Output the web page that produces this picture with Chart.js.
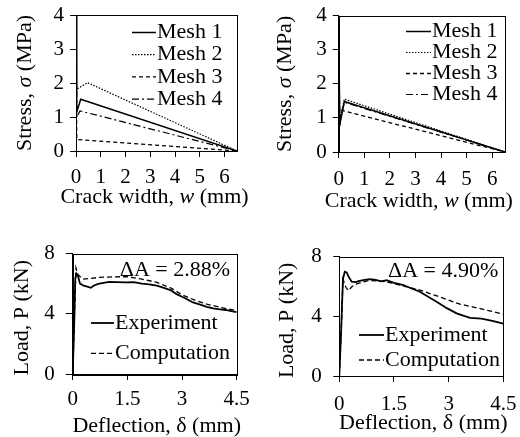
<!DOCTYPE html>
<html>
<head>
<meta charset="utf-8">
<script src="https://cdn.jsdelivr.net/npm/chart.js@4"></script>
<style>
html, body { margin: 0; padding: 0; background: #fff; overflow: hidden; }
#wrap { position: relative; width: 520px; height: 437px; overflow: hidden; }
.cell { position: absolute; width: 260px; }
</style>
</head>
<body>
<div id="wrap">
  <div class="cell" style="left:0;top:0;height:220px"><canvas id="c1"></canvas></div>
  <div class="cell" style="left:260px;top:0;height:220px"><canvas id="c2"></canvas></div>
  <div class="cell" style="left:0;top:220px;height:230px"><canvas id="c3"></canvas></div>
  <div class="cell" style="left:260px;top:220px;height:230px"><canvas id="c4"></canvas></div>
</div>
<script>
// ---- data: softening curves, left (a) ----
const meshNames = ['Mesh 1', 'Mesh 2', 'Mesh 3', 'Mesh 4'];
const aW1 = [0, 0.03, 0.19, 6.5];  const aS1 = [4, 1.15, 1.52, 0];
const aW2 = [0, 0.03, 0.47, 6.5];  const aS2 = [4, 1.82, 2.01, 0];
const aW3 = [0, 0.03, 6.5];        const aS3 = [4, 0.34, 0];
const aW4 = [0, 0.03, 0.16, 6.5];  const aS4 = [4, 0.99, 1.18, 0];

// ---- data: softening curves, right (b) ----
const bW1 = [0, 0.04, 0.22, 6.5];  const bS1 = [4, 0.8, 1.48, 0];
const bW2 = [0, 0.04, 0.22, 6.5];  const bS2 = [4, 0.9, 1.55, 0];
const bW3 = [0, 0.04, 0.12, 6.5];  const bS3 = [4, 0.75, 1.22, 0];
const bW4 = [0, 0.04, 0.22, 6.5];  const bS4 = [4, 0.85, 1.46, 0];

const crackTicks = [0, 1, 2, 3, 4, 5, 6];
const stressTicks = [0, 1, 2, 3, 4];

// ---- data: load-deflection, left (c) ----
const cExpD = [0, 0.04, 0.07, 0.1, 0.14, 0.2, 0.3, 0.4, 0.5, 0.57, 0.7, 0.85, 1.0, 1.2, 1.45, 1.67, 1.9, 2.1, 2.31, 2.5, 2.7, 2.85, 3.0, 3.15, 3.3, 3.5, 3.68, 3.85, 4.0, 4.2, 4.35, 4.5];
const cExpP = [0, 3.2, 6.3, 6.68, 6.55, 6.0, 5.86, 5.8, 5.72, 5.86, 5.98, 6.05, 6.12, 6.1, 6.08, 6.1, 6.0, 5.95, 5.86, 5.72, 5.55, 5.3, 5.13, 4.95, 4.75, 4.6, 4.46, 4.35, 4.3, 4.25, 4.18, 4.1];
const cComD = [0, 0.05, 0.09, 0.14, 0.28, 0.5, 0.75, 1.1, 1.48, 1.9, 2.31, 2.7, 3.0, 3.35, 3.68, 4.1, 4.5];
const cComP = [0, 4.0, 7.04, 6.6, 6.3, 6.35, 6.42, 6.45, 6.46, 6.3, 6.08, 5.7, 5.26, 4.9, 4.64, 4.4, 4.2];

// ---- data: load-deflection, right (d) ----
const dExpD = [0, 0.05, 0.1, 0.15, 0.2, 0.27, 0.34, 0.45, 0.55, 0.7, 0.84, 1.0, 1.15, 1.3, 1.5, 1.76, 2.0, 2.21, 2.45, 2.67, 2.95, 3.22, 3.4, 3.59, 3.9, 4.2, 4.5];
const dExpP = [0, 3.0, 6.5, 7.0, 6.95, 6.6, 6.32, 6.3, 6.38, 6.45, 6.5, 6.45, 6.35, 6.42, 6.25, 6.1, 5.85, 5.65, 5.3, 4.98, 4.55, 4.2, 4.05, 3.9, 3.85, 3.7, 3.52];
const dComD = [0, 0.06, 0.1, 0.18, 0.25, 0.35, 0.5, 0.8, 1.2, 1.5, 1.9, 2.21, 2.7, 3.31, 3.9, 4.5];
const dComP = [0, 3.5, 6.5, 5.95, 5.72, 6.0, 6.2, 6.4, 6.35, 6.2, 5.95, 5.76, 5.35, 4.82, 4.5, 4.15];

const deflTicks = [0, 1.5, 3, 4.5];
const loadTicks = [0, 4, 8];
const seriesLD = ['Experiment', 'Computation'];
const deltaA = ['\u0394A = 2.88%', '\u0394A = 4.90%'];

// axis titles, split where the symbol is set in italic
const crackTitle = [['Crack width, ', false], ['w', true], [' (mm)', false]];
const stressTitle = [['Stress, ', false], ['\u03c3', true], [' (MPa)', false]];
const deflTitle = [['Deflection, \u03b4 (mm)', false]];
const loadTitle = [['Load, P (kN)', false]];

const FAMILY = "'Liberation Serif', 'Times New Roman', serif";
Chart.defaults.font.family = FAMILY;
Chart.defaults.font.size = 21;
Chart.defaults.color = '#000';

const pts = (xs, ys) => xs.map((x, i) => ({ x: x, y: ys[i] }));

const meshStyles = [
    { borderDash: [], borderWidth: 1.5 },
    { borderDash: [1.5, 1.5], borderWidth: 1.2 },
    { borderDash: [4, 3], borderWidth: 1.3 },
    { borderDash: [7, 3, 2, 3], borderWidth: 1.2 }
];
const ldStyles = [
    { borderDash: [], borderWidth: 1.8 },
    { borderDash: [5, 3], borderWidth: 1.3 }
];

function drawRich(ctx, segs, cx, cy, vertical) {
    ctx.save();
    ctx.translate(cx, cy);
    if (vertical) ctx.rotate(-Math.PI / 2);
    ctx.textBaseline = 'middle';
    ctx.textAlign = 'left';
    let total = 0;
    const widths = segs.map(s => {
        ctx.font = (s[1] ? 'italic ' : '') + '22px ' + FAMILY;
        const w = ctx.measureText(s[0]).width;
        total += w;
        return w;
    });
    let x = -total / 2;
    segs.forEach((s, i) => {
        ctx.font = (s[1] ? 'italic ' : '') + '22px ' + FAMILY;
        ctx.fillText(s[0], x, 0);
        x += widths[i];
    });
    ctx.restore();
}

// frame around plot, axis titles and legend drawn inside the plot area
const framePlugin = {
    id: 'frameLegend',
    afterDraw(chart, args, opts) {
        const ctx = chart.ctx;
        const a = chart.chartArea;
        ctx.save();
        ctx.strokeStyle = '#000';
        ctx.lineWidth = 1;
        ctx.strokeRect(Math.round(a.left) + 0.5, Math.round(a.top) + 0.5,
            Math.round(a.right - a.left), Math.round(a.bottom - a.top));

        ctx.fillStyle = '#000';
        drawRich(ctx, opts.xTitle, (a.left + a.right) / 2 + opts.xTitleDx, opts.xTitleY, false);
        drawRich(ctx, opts.yTitle, opts.yTitleX, (a.top + a.bottom) / 2 + opts.yTitleDy, true);

        ctx.font = '22px ' + FAMILY;
        ctx.textBaseline = 'middle';
        (opts.items || []).forEach((it, i) => {
            const y = opts.top + i * opts.gap;
            ctx.beginPath();
            ctx.setLineDash(it.dash);
            ctx.lineWidth = it.width;
            ctx.moveTo(opts.x, y);
            ctx.lineTo(opts.x + opts.len, y);
            ctx.stroke();
            ctx.setLineDash([]);
            ctx.textAlign = 'left';
            ctx.fillText(it.label, opts.x + opts.len + 1, y);
        });
        if (opts.note) {
            ctx.textAlign = 'right';
            ctx.fillText(opts.note, opts.noteX, opts.noteY);
        }
        ctx.restore();
    }
};

function makeChart(id, datasets, o) {
    return new Chart(document.getElementById(id), {
        type: 'scatter',
        data: { datasets: datasets },
        options: {
            responsive: true,
            maintainAspectRatio: false,
            animation: false,
            layout: { padding: o.pad },
            plugins: {
                legend: { display: false },
                tooltip: { enabled: false },
                frameLegend: o.legend
            },
            elements: { point: { radius: 0 }, line: { tension: 0, borderColor: '#000' } },
            scales: {
                x: {
                    type: 'linear', min: 0, max: o.xMax,
                    afterBuildTicks: s => { s.ticks = o.xTicks.map(v => ({ value: v })); },
                    afterFit: s => { s.height = o.xH; s.paddingLeft = 0; s.paddingRight = 0; },
                    ticks: { padding: o.xPad, maxRotation: 0, autoSkip: false, callback: v => String(v) },
                    grid: { drawOnChartArea: false, tickLength: o.xTl, color: '#000' },
                    border: { color: '#000', width: 1 }
                },
                y: {
                    type: 'linear', min: 0, max: o.yMax,
                    afterBuildTicks: s => { s.ticks = o.yTicks.map(v => ({ value: v })); },
                    afterFit: s => { s.width = o.yW; s.paddingTop = 0; s.paddingBottom = 0; },
                    ticks: { padding: o.yPad, autoSkip: false, callback: v => String(v) },
                    grid: { drawOnChartArea: false, tickLength: o.yTl, color: '#000' },
                    border: { color: '#000', width: 1 }
                }
            }
        },
        plugins: [framePlugin]
    });
}

function meshSets(series) {
    return series.map((s, i) => Object.assign({
        label: meshNames[i], data: pts(s[0], s[1]), showLine: true, borderColor: '#000', fill: false
    }, meshStyles[i]));
}
function ldSets(series) {
    return series.map((s, i) => Object.assign({
        label: seriesLD[i], data: pts(s[0], s[1]), showLine: true, borderColor: '#000', fill: false
    }, ldStyles[i]));
}
const meshLegend = meshNames.map((n, i) => ({ label: n, dash: meshStyles[i].borderDash, width: meshStyles[i].borderWidth }));
const ldLegend = seriesLD.map((n, i) => ({ label: n, dash: ldStyles[i].borderDash, width: ldStyles[i].borderWidth }));

// Softening charts
makeChart('c1', meshSets([[aW1, aS1], [aW2, aS2], [aW3, aS3], [aW4, aS4]]), {
    pad: { left: 0, right: 23, top: 15, bottom: 0 },
    xMax: 6.5, xTicks: crackTicks, xH: 69, xPad: 8, xTl: 6,
    yMax: 4, yTicks: stressTicks, yW: 76, yPad: 6, yTl: 6,
    legend: { xTitle: crackTitle, xTitleDx: -2, xTitleY: 197, yTitle: stressTitle, yTitleX: 25, yTitleDy: 0,
        items: meshLegend, x: 132, len: 24, top: 32.5, gap: 22.2 }
});
makeChart('c2', meshSets([[bW1, bS1], [bW2, bS2], [bW3, bS3], [bW4, bS4]]), {
    pad: { left: 0, right: 15, top: 15.7, bottom: 0 },
    xMax: 6.5, xTicks: crackTicks, xH: 68, xPad: 8.7, xTl: 6,
    yMax: 4, yTicks: stressTicks, yW: 78.7, yPad: 6, yTl: 6,
    legend: { xTitle: crackTitle, xTitleDx: -3, xTitleY: 201.5, yTitle: stressTitle, yTitleX: 25, yTitleDy: 0,
        items: meshLegend, x: 146, len: 25, top: 31.5, gap: 21 }
});

// Load-deflection charts
makeChart('c3', ldSets([[cExpD, cExpP], [cComD, cComP]]), {
    pad: { left: 0, right: 23.3, top: 33.5, bottom: 0 },
    xMax: 4.5, xTicks: deflTicks, xH: 76, xPad: 7, xTl: 6,
    yMax: 8, yTicks: loadTicks, yW: 72.7, yPad: 11, yTl: 7,
    legend: { xTitle: deflTitle, xTitleDx: 2, xTitleY: 206.5, yTitle: loadTitle, yTitleX: 22, yTitleDy: 4,
        items: ldLegend, x: 91, len: 23, top: 103, gap: 30.3, note: deltaA[0], noteX: 230, noteY: 50 }
});
makeChart('c4', ldSets([[dExpD, dExpP], [dComD, dComP]]), {
    pad: { left: 0, right: 16.7, top: 36.7, bottom: 0 },
    xMax: 4.5, xTicks: deflTicks, xH: 74, xPad: 10, xTl: 6,
    yMax: 8, yTicks: loadTicks, yW: 79.3, yPad: 11.5, yTl: 6,
    legend: { xTitle: deflTitle, xTitleDx: 2, xTitleY: 203.5, yTitle: loadTitle, yTitleX: 27.5, yTitleDy: 4,
        items: ldLegend, x: 99, len: 25, top: 115, gap: 25, note: deltaA[1], noteX: 238.3, noteY: 51.7 }
});
</script>
</body>
</html>
